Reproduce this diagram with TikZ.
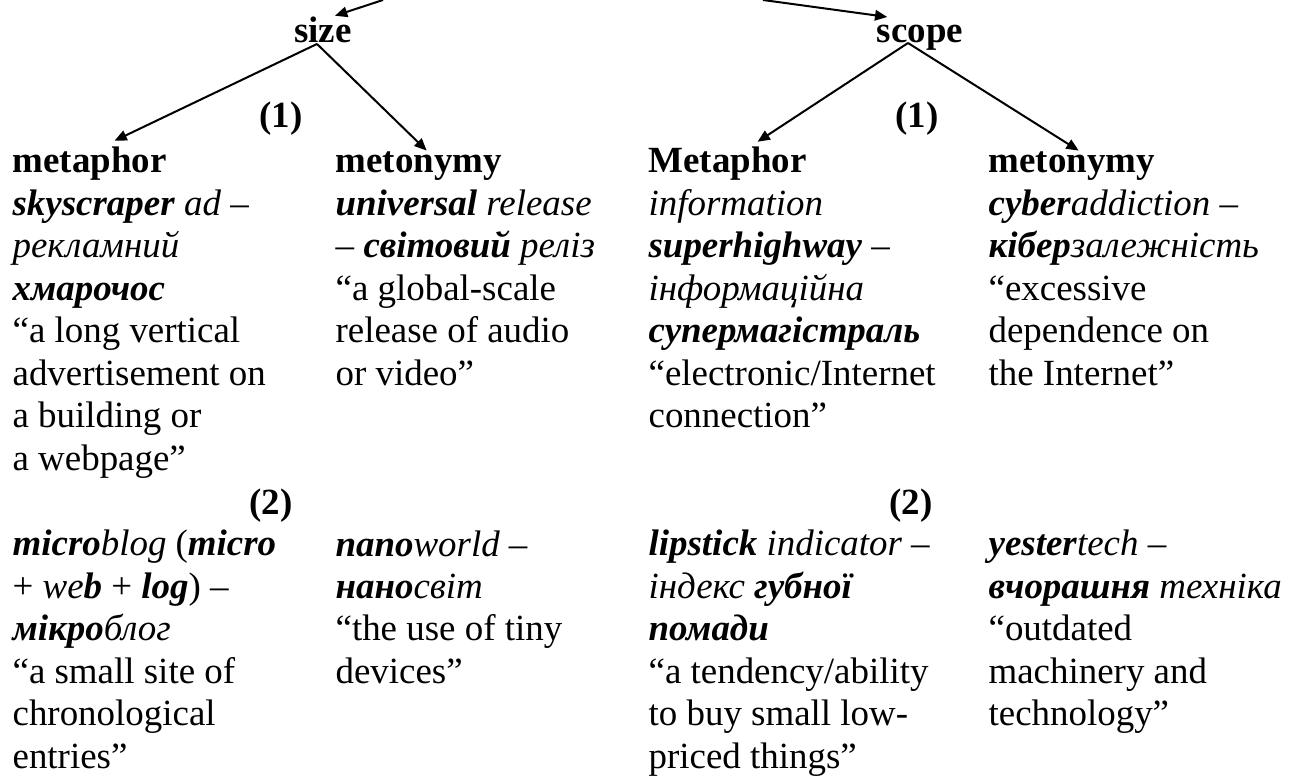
\documentclass[tikz,border=0pt]{standalone}
\usepackage{fontspec}
\setmainfont{Liberation Serif}
\usepackage{tikz}
\usetikzlibrary{arrows.meta}

\begin{document}
\begin{tikzpicture}[x=0.325pt, y=-0.325pt,
    txt/.style={anchor=base west, inner sep=0pt, align=left,
        font=\fontsize{12}{13.8}\selectfont},
    head/.style={txt, font=\fontsize{12}{13.8}\selectfont\bfseries},
    num/.style={inner sep=0pt, font=\fontsize{12}{13.8}\selectfont\bfseries},
    arr/.style={line width=0.65pt, -{Triangle[length=4pt,width=3.4pt]}}]

            \newcommand{\kw}[1]{\textbf{\textit{#1}}}

            \fill[white] (0,0) rectangle (1290,778);
            \useasboundingbox (0,0) rectangle (1290,778);

            % top level
            \coordinate (inL) at (383,0);
            \coordinate (inR) at (763,0);
            \node[num, anchor=base] (size) at (323,43) {size};
            \node[num, anchor=base] (scope) at (920,43) {scope};

            \node[num, anchor=base] (oneL) at (281,128) {(1)};
            \node[num, anchor=base] (oneR) at (917,128) {(1)};

            % headings
            \node[head] (metL) at (12,173) {metaphor};
            \node[head] (metoL) at (335,173) {metonymy};
            \node[head] (metR) at (648,173) {Metaphor};
            \node[head] (metoR) at (988,173) {metonymy};

            % examples (1), placed by the baseline of their last line
            \node[txt] (exA) at (12,470.3) {\kw{skyscraper} \textit{ad --}\\
                \textit{рекламний}\\ \kw{хмарочос}\\ “a long vertical\\
                advertisement on\\ a building or\\ a webpage”};
            \node[txt] (exB) at (335,385.3) {\kw{universal} \textit{release}\\
                \textit{-- }\kw{світовий} \textit{реліз}\\ “a global-scale\\
                release of audio\\ or video”};
            \node[txt] (exC) at (648,427.8) {\textit{information}\\
                \kw{superhighway} \textit{--}\\ \textit{інформаційна}\\
                \kw{супермагістраль}\\ “electronic/Internet\\ connection”};
            \node[txt] (exD) at (988,385.3) {\kw{cyber}\textit{addiction --}\\
                \kw{кібер}\textit{залежність}\\ “excessive\\
                dependence on\\ the Internet”};

            \node[num, anchor=base east] (twoL) at (293,515) {(2)};
            \node[num, anchor=base east] (twoR) at (933,515) {(2)};

            % examples (2)
            \node[txt] (exE) at (12,768.3) {\kw{micro}\textit{blog} (\kw{micro}\\
                + \textit{we}\kw{b} + \kw{log}) --\\ \kw{мікро}\textit{блог}\\
                “a small site of\\ chronological\\ entries”};
            \node[txt] (exF) at (335,683.4) {\kw{nano}\textit{world --}\\
                \kw{нано}\textit{світ}\\ “the use of tiny\\ devices”};
            \node[txt] (exG) at (648,768.3) {\kw{lipstick} \textit{indicator --}\\
                \textit{індекс} \kw{губної}\\ \kw{помади}\\
                “a tendency/ability\\ to buy small low-\\ priced things”};
            \node[txt] (exH) at (988,725.8) {\kw{yester}\textit{tech --}\\
                \kw{вчорашня} \textit{техніка}\\ “outdated\\
                machinery and\\ technology”};

            % connectors
            \draw[arr] (inL) -- ([shift={(12,-1)}]size.north);
            \draw[arr] (inR) -- ([shift={(11,-8)}]scope.north west);
            \draw[arr] ([shift={(-6,0)}]size.south) -- ([shift={(25,-6)}]metL.north);
            \draw[arr] ([shift={(-6,0)}]size.south) -- ([shift={(8,-1)}]metoL.north);
            \draw[arr] ([shift={(-12,0)}]scope.base) -- ([shift={(30,-5)}]metR.north);
            \draw[arr] ([shift={(-12,0)}]scope.base) -- ([shift={(7,-1)}]metoR.north);

        \end{tikzpicture}
\end{document}
